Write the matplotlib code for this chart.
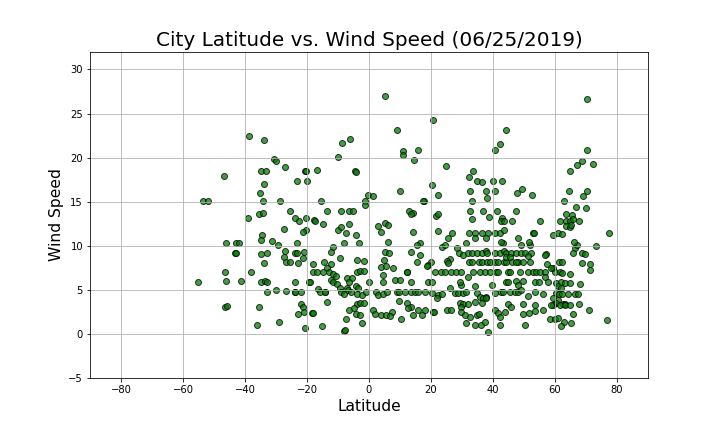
import matplotlib
matplotlib.use("Agg")
import matplotlib.pyplot as plt

lat = [
 -38.8,-33.9,-30.8,-30.0,-27.1,-34.9,-33.2,-46.8,-23.1,-33.9,-35.3,-53.6,-51.9,-34.2,-28.8,-25.5,-23.8,-39.0,-35.6,-34.3,
 -27.5,-34.5,-34.9,-31.3,-29.2,-46.1,-42.9,-42.0,-43.3,-43.0,-34.9,-32.9,-27.1,-27.5,-24.0,-23.1,-33.9,-26.7,-25.4,-22.9,
 -46.4,-38.2,-55.1,-46.1,-41.4,-34.9,-33.6,-32.9,-23.8,-32.9,-30.0,-26.8,-23.9,-24.0,-46.3,-45.7,-35.5,-23.0,-29.1,-36.1,
 5.1,8.9,-8.8,-6.2,-10.1,11.1,11.1,-20.6,-20.3,-16.8,-4.4,-4.3,-20.0,9.9,-0.4,1.4,-1.2,-1.2,-15.4,-13.6,-9.1,-6.5,-5.3,-20.4,-17.6,
 -22.6,-17.5,-14.9,-20.2,-21.3,-10.1,-9.0,-7.5,-6.5,-4.1,-3.3,-8.2,-11.5,2.9,3.8,5.3,6.1,6.1,-23.3,-21.1,-21.3,
 -12.2,-9.3,-4.0,-1.6,5.1,6.5,4.9,-18.1,-14.6,-12.3,-13.6,3.9,5.4,7.6,-18.1,-16.8,-14.7,-13.0,-11.7,-10.7,-3.8,-2.9,-1.6,
 -7.0,-5.6,4.6,-19.2,-19.0,-12.3,-11.5,-10.4,-9.2,-7.2,-6.3,-4.1,-3.4,0.1,4.4,8.4,10.0,-21.8,-16.6,-15.7,-14.3,-14.1,
 -9.0,-8.2,-6.9,-5.7,-4.0,-2.3,-0.9,2.3,3.0,4.6,5.7,8.9,9.8,-13.6,-22.0,-21.3,-4.0,-2.9,-1.5,-6.6,-5.0,1.2,2.0,3.9,5.5,
 7.5,6.8,10.3,-20.9,-18.4,-18.2,-4.3,-2.9,-2.3,-7.5,-15.2,-20.8,-8.2,-7.7,
 20.5,44.3,15.7,14.4,42.4,40.8,24.7,33.4,32.1,34.7,36.6,40.1,43.0,20.2,22.1,32.7,37.8,40.8,38.2,17.6,17.4,33.1,13.0,14.1,
 13.6,21.6,22.3,32.7,36.9,41.3,38.8,43.0,
 33.3,42.7,43.6,14.3,22.1,25.6,26.8,16.4,15.5,23.4,24.5,28.5,31.2,32.3,34.3,36.6,38.4,34.1,37.6,40.6,42.2,43.6,13.4,16.4,
 15.4,20.0,19.1,18.7,26.1,25.0,25.6,29.1,30.4,32.0,33.3,34.7,36.3,37.6,38.2,40.6,42.2,43.6,44.3,
 32.2,33.1,35.5,36.5,38.2,39.0,40.6,41.6,43.6,44.3,
 21.3,23.2,24.5,26.4,28.2,29.8,33.6,35.8,37.4,39.0,41.1,41.6,
 31.8,12.1,12.3,13.7,18.9,20.4,29.8,29.3,34.1,39.8,44.1,11.6,13.7,14.8,15.9,18.0,
 20.2,22.3,23.4,21.8,26.1,27.7,28.8,30.2,31.4,34.7,35.8,36.8,37.6,37.8,40.6,42.7,
 12.1,13.7,12.7,9.8,15.9,17.0,14.3,18.0,20.7,20.9,25.0,26.6,29.3,30.4,32.0,29.8,34.1,36.3,29.8,30.9,32.5,34.7,35.5,
 31.4,34.1,36.1,37.4,38.4,40.6,41.6,42.2,43.8,42.2,
 70.4,70.4,68.7,67.1,64.9,72.2,47.9,49.5,52.7,64.6,70.4,69.1,63.0,47.4,66.8,70.1,63.6,65.5,
 46.2,55.3,61.5,63.6,64.7,65.8,67.7,63.6,64.7,65.2,77.4,52.9,53.1,59.3,60.9,62.3,48.1,43.3,49.1,51.9,66.3,67.1,73.1,
 65.8,68.8,69.6,45.9,47.5,49.1,50.2,52.4,44.3,45.4,51.3,57.0,46.2,48.1,49.7,
 57.5,59.3,61.3,62.3,68.8,71.4,71.4,44.9,45.4,48.6,51.3,52.9,54.0,55.1,56.7,
 58.8,59.9,61.5,62.3,64.9,56.7,44.9,47.5,49.7,48.1,53.5,54.8,57.7,60.4,62.0,63.1,64.9,68.2,60.9,62.0,
 43.3,45.4,47.0,48.1,49.1,51.3,53.5,56.1,60.2,61.3,62.3,64.2,66.6,67.4,
 59.3,60.9,62.6,60.2,59.3,44.9,45.9,49.7,53.5,53.5,56.1,51.6,49.7,
 63.1,67.7,70.9,65.8,58.5,59.9,61.0,62.8,65.2,62.0,50.2,76.8,
 42.5,51.5,66.1,56.7,47.5,51.8,58.8,61.5,63.1,64.7,
]

wind = [
 22.5,22.0,19.85,19.66,18.9,18.5,18.5,17.9,17.4,17.0,16.0,15.1,15.1,15.1,15.1,14.0,13.2,13.15,13.6,13.7,
 11.9,11.25,10.6,10.5,10.1,10.3,10.3,10.3,9.17,9.17,9.09,9.17,9.43,8.7,9.17,9.17,8.03,8.15,8.15,8.03,
 7.0,7.0,5.87,5.98,5.98,5.87,6.06,5.87,5.87,4.7,4.97,4.85,4.7,4.7,3.07,3.18,3.07,2.27,1.36,1.02,
 27.0,23.1,21.7,22.1,20.1,20.7,20.3,18.5,18.5,18.6,18.5,18.4,17.4,16.25,15.8,15.6,15.1,14.6,15.1,14.0,14.0,14.0,14.0,13.2,12.95,
 12.84,12.84,12.5,11.8,11.6,11.8,12.1,11.4,12.5,11.25,10.3,10.3,9.9,12.2,11.6,12.6,12.4,10.4,10.3,9.24,8.6,
 9.28,8.6,8.37,8.26,9.28,9.13,8.37,7.92,8.15,7.92,7.47,7.58,7.76,7.47,7.0,7.0,7.0,7.0,6.78,6.59,7.0,7.16,7.16,
 6.33,6.33,6.63,5.87,5.87,6.14,5.87,5.65,5.19,5.26,5.87,5.42,5.26,5.87,5.87,6.14,6.14,4.7,5.11,4.7,4.7,4.7,
 4.74,4.51,4.97,4.74,4.51,4.43,4.74,4.74,4.43,4.51,4.74,4.74,4.74,3.67,3.38,3.1,3.38,3.49,3.49,2.73,2.92,2.73,2.24,2.16,2.16,
 2.53,2.05,1.7,2.53,2.35,2.35,2.24,2.16,1.22,1.67,0.91,0.64,0.34,0.45,
 24.3,23.1,20.9,19.7,21.6,20.9,19.1,18.5,17.8,17.4,17.2,17.4,17.4,16.9,15.8,16.25,16.25,16.25,15.4,15.1,15.1,15.1,13.9,13.7,
 13.6,13.4,13.55,14.0,14.0,14.0,13.3,13.2,
 13.07,12.84,12.84,11.55,11.7,10.9,11.4,10.3,10.1,9.9,10.1,9.8,10.3,11.4,11.4,11.4,11.4,10.9,10.9,11.4,11.4,11.8,9.28,8.9,
 8.15,8.15,7.84,7.65,8.52,8.22,8.03,9.17,8.98,9.17,9.17,9.17,9.17,9.43,9.17,9.17,9.17,9.43,9.17,
 8.15,8.15,8.15,8.15,8.15,8.15,8.15,8.15,8.15,8.15,
 7.0,7.0,7.0,7.0,7.0,7.0,7.0,7.0,7.0,7.0,7.0,7.0,
 6.5,7.0,7.0,5.94,5.87,5.87,5.57,5.94,5.38,5.57,5.94,4.7,4.7,4.7,4.7,4.7,
 4.62,4.43,4.55,4.05,5.19,4.62,4.62,4.62,4.81,4.62,4.24,4.05,4.24,4.1,4.62,4.7,
 3.49,3.1,2.92,3.75,2.73,2.16,2.16,2.73,2.53,2.53,2.73,2.73,3.49,3.38,3.38,3.1,3.6,3.49,2.53,2.16,1.97,2.16,2.31,
 1.22,1.02,1.02,1.4,0.26,2.73,2.35,1.97,2.53,1.02,
 26.6,20.9,19.6,19.2,18.5,19.3,16.0,16.4,15.8,16.25,16.25,15.6,15.1,14.0,14.4,14.3,13.6,13.5,
 12.84,12.84,12.84,12.84,12.84,13.0,12.84,12.2,12.1,12.4,11.4,11.4,11.4,11.25,11.4,11.3,10.9,10.3,10.1,10.1,9.7,10.1,10.0,
 9.17,9.17,9.06,9.17,9.17,9.17,9.17,9.17,8.67,8.67,8.79,9.06,8.15,8.15,8.15,
 7.92,7.53,8.15,8.15,8.03,7.92,7.27,7.0,7.0,7.0,7.0,7.0,7.0,7.0,7.0,
 7.53,7.0,7.0,6.9,6.78,6.5,5.87,6.02,6.02,5.57,5.87,5.87,5.87,5.83,5.94,5.83,5.76,5.65,5.38,5.19,
 4.7,4.7,4.7,4.7,5.0,4.3,4.7,4.5,4.6,4.5,4.5,4.5,4.5,4.5,
 4.05,3.86,3.38,3.49,3.3,3.38,3.1,3.38,3.3,2.61,2.73,2.35,2.24,
 3.38,3.38,2.73,2.24,1.7,1.7,1.85,1.4,1.22,0.91,1.02,1.55,
 10.4,10.4,10.4,8.97,8.2,8.2,3.3,3.3,3.3,3.3,
]

fig = plt.figure(figsize=(10, 6), dpi=72)
ax = fig.add_axes([0.125, 0.125, 0.775, 0.755])
ax.scatter(lat, wind, marker="o", facecolors="green", edgecolors="black", alpha=0.75)
ax.set_title("City Latitude vs. Wind Speed (06/25/2019)", fontsize=20)
ax.set_xlabel("Latitude", fontsize=15.5)
ax.set_ylabel("Wind Speed", fontsize=15.5)
ax.set_xlim(-90, 90)
ax.set_ylim(-5, 32)
ax.grid(True)
fig.savefig("out.png", dpi=72)
